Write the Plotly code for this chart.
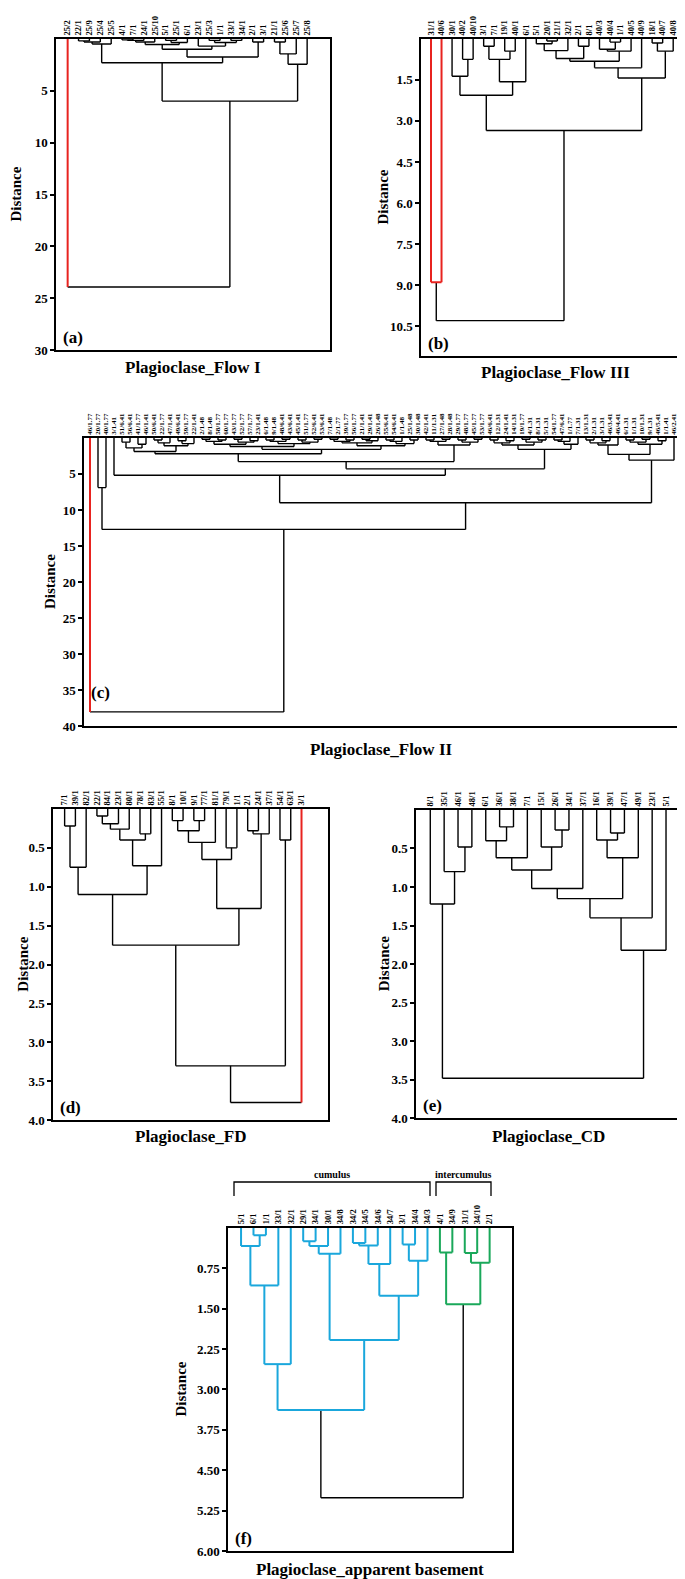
import plotly.graph_objects as go

W, H = 685, 1579
SERIF = "Liberation Serif"

# ---------------- panel (a) Plagioclase_Flow I
a_labels = ["25/2", "22/1", "25/9", "25/4", "25/5", "4/1", "7/1", "24/1", "25/10", "5/1",
            "25/1", "6/1", "23/1", "25/3", "1/1", "33/1", "34/1", "2/1", "3/1", "21/1",
            "25/6", "25/7", "25/8"]
# trees: (left, right, distance); ints are leaf positions in the label list
a_g1 = (((1, 2, 0.2), 3, 0.3), 4, 0.5)
a_g2 = ((((5, 6, 0.1), 7, 0.15), 8, 0.3), ((9, 10, 0.15), 11, 0.35), 0.55)
a_g3 = (12, ((13, 14, 0.15), (15, 16, 0.15), 0.35), 0.7)
a_g4 = ((a_g2, a_g3, 1.0), (17, 18, 0.3), 1.75)
a_right = (((19, 20, 0.3), 21, 1.45), 22, 2.45)
a_tree = (0, ((a_g1, a_g4, 2.3), a_right, 6.0), 23.9)
a_ticks = [5, 10, 15, 20, 25, 30]

# ---------------- panel (b) Plagioclase_Flow III
b_labels = ["31/1", "40/6", "30/1", "40/2", "40/10", "3/1", "7/1", "19/1", "40/1", "6/1",
            "5/1", "20/1", "21/1", "32/1", "2/1", "8/1", "40/3", "40/4", "1/1", "40/5",
            "40/9", "18/1", "40/7", "40/8"]
b_left = ((2, (3, 4, 0.75), 1.37), (((5, 6, 0.27), (7, 8, 0.45), 0.75), 9, 1.57), 2.06)
b_r1 = (((10, (11, 12, 0.08), 0.18), 13, 0.43), (14, 15, 0.27), 0.72)
b_r2 = ((16, (17, 18, 0.12), 0.38), 19, 0.45)
b_right = (((b_r1, b_r2, 0.82), 20, 1.06), ((21, 22, 0.15), 23, 0.45), 1.43)
b_tree = ((0, 1, 8.9), (b_left, b_right, 3.35), 10.3)
b_ticks = [1.5, 3.0, 4.5, 6.0, 7.5, 9.0, 10.5]

# ---------------- panel (c) Plagioclase_Flow II
c_labels = ["46/1.77", "20/1.77", "40/1.77", "3/1.41", "51/6.41", "56/6.41", "41/1.77", "46/1.41",
            "50/6.41", "22/1.77", "47/1.41", "49/6.41", "59/1.77", "22/1.41", "2/1.48", "8/1.48",
            "58/1.77", "60/1.77", "43/1.77", "52/1.77", "57/1.77", "23/1.41", "6/1.48", "9/1.48",
            "48/6.41", "43/6.41", "45/1.41", "51/1.77", "52/6.41", "53/6.41", "7/1.48", "2/1.77",
            "39/1.77", "56/1.77", "21/1.41", "29/1.41", "26/1.48", "55/6.41", "54/6.41", "1/1.48",
            "25/1.48", "30/1.48", "42/1.41", "11/1.31", "27/1.48", "28/1.48", "29/1.77", "48/1.77",
            "45/1.77", "53/1.77", "46/6.41", "12/1.31", "24/1.41", "14/1.31", "19/1.77", "4/1.31",
            "8/1.31", "5/1.31", "54/1.77", "47/6.41", "1/1.77", "7/1.31", "13/1.31", "2/1.31",
            "3/1.31", "46/3.41", "46/4.41", "6/1.31", "1/1.31", "10/1.31", "9/1.31", "46/5.41",
            "1/1.41", "46/2.41"]
c_x1 = (((4, 5, 0.6), (6, 7, 0.9), 1.4), (((8, 9, 0.3), 10, 0.7), ((11, 12, 0.4), 13, 0.8), 1.1), 1.9)
c_x2a = ((((14, 15, 0.2), (16, 17, 0.3), 0.5), ((18, 19, 0.2), (20, 21, 0.4), 0.6), 0.9),
         (((22, 23, 0.3), (24, 25, 0.2), 0.5), ((26, 27, 0.3), (28, 29, 0.2), 0.6), 0.8), 1.2)
c_x2b = ((((30, 31, 0.2), (32, 33, 0.3), 0.5), ((34, 35, 0.2), 36, 0.4), 0.7),
         (((37, 38, 0.3), 39, 0.5), (40, 41, 0.3), 0.8), 1.1)
c_x3 = (((42, 43, 0.3), (44, 45, 0.2), 0.5), ((46, 47, 0.3), (48, 49, 0.2), 0.6), 1.0)
c_x = ((c_x1, (c_x2a, c_x2b, 1.6), 2.2), c_x3, 3.3)
c_m = ((((50, 51, 0.3), (52, 53, 0.4), 0.7), ((54, 55, 0.2), (56, 57, 0.3), 0.6), 1.0),
       (((58, 59, 0.3), 60, 0.5), 61, 0.9), 1.6)
c_a = (3, (c_x, c_m, 4.3), 5.2)
c_b1 = ((((62, 63, 0.3), (64, 65, 0.4), 0.7), 66, 1.0),
        (((67, 68, 0.3), (69, 70, 0.2), 0.6), (71, 72, 0.4), 0.9), 2.3)
c_b = (c_b1, 73, 3.1)
c_tree = (0, ((1, 2, 6.9), (c_a, c_b, 9.0), 12.7), 38.0)
c_ticks = [5, 10, 15, 20, 25, 30, 35, 40]

# ---------------- panel (d) Plagioclase_FD
d_labels = ["7/1", "39/1", "82/1", "22/1", "84/1", "23/1", "80/1", "78/1", "83/1", "55/1",
            "8/1", "10/1", "9/1", "77/1", "81/1", "79/1", "1/1", "2/1", "24/1", "37/1",
            "54/1", "63/1", "3/1"]
d_a = ((0, 1, 0.22), 2, 0.75)
d_b = ((((3, 4, 0.09), 5, 0.19), 6, 0.26), (7, 8, 0.32), 0.4)
d_left = (d_a, (d_b, 9, 0.73), 1.1)
d_c1 = ((((10, 11, 0.15), (12, 13, 0.15), 0.28), 14, 0.43), (15, 16, 0.5), 0.65)
d_c = (d_c1, ((17, 18, 0.28), 19, 0.32), 1.28)
d_tree = (((d_left, d_c, 1.75), (20, 21, 0.4), 3.3), 22, 3.77)
d_ticks = [0.5, 1.0, 1.5, 2.0, 2.5, 3.0, 3.5, 4.0]

# ---------------- panel (e) Plagioclase_CD
e_labels = ["8/1", "35/1", "46/1", "48/1", "6/1", "36/1", "38/1", "7/1", "15/1", "26/1",
            "34/1", "37/1", "16/1", "39/1", "47/1", "49/1", "23/1", "5/1"]
e_m = (0, (1, (2, 3, 0.48), 0.8), 1.22)
e_n7 = ((((4, (5, 6, 0.22), 0.40), 7, 0.62), (8, (9, 10, 0.26), 0.48), 0.78), 11, 1.02)
e_n10 = ((12, (13, 14, 0.30), 0.39), 15, 0.62)
e_n = (((e_n7, e_n10, 1.15), 16, 1.4), 17, 1.82)
e_tree = (e_m, e_n, 3.48)
e_ticks = [0.5, 1.0, 1.5, 2.0, 2.5, 3.0, 3.5, 4.0]

# ---------------- panel (f) Plagioclase_apparent basement
f_labels = ["5/1", "6/1", "1/1", "33/1", "32/1", "29/1", "34/1", "30/1", "34/8", "34/2",
            "34/5", "34/6", "34/7", "3/1", "34/4", "34/3", "4/1", "34/9", "31/1", "34/10", "2/1"]
f_cumulus = f_labels[:16]
f_intercumulus = f_labels[16:]
f_left = (((0, (1, 2, 0.14), 0.34), 3, 1.07), 4, 2.53)
f_mid = ((((5, 6, 0.25), 7, 0.34), 8, 0.48),
         ((((9, 10, 0.28), 11, 0.33), 12, 0.67), ((13, 14, 0.31), 15, 0.61), 1.26), 2.08)
f_inter = ((16, 17, 0.46), ((18, 19, 0.47), 20, 0.65), 1.42)
f_tree = ((f_left, f_mid, 3.38), f_inter, 5.01)
f_ticks = [0.75, 1.50, 2.25, 3.00, 3.75, 4.50, 5.25, 6.00]


def segments(tree, labels, groups):
    # list of (xs, ys, colour) for every link of the dendrogram
    out = []

    def colour(members):
        for names, col in groups:
            if all(labels[m] in names for m in members):
                return col
        return "black"

    def walk(node):
        if isinstance(node, int):
            return node, 0.0, {node}
        l, r, h = node
        lx, lh, lm = walk(l)
        rx, rh, rm = walk(r)
        col = colour(lm | rm)
        for x0, h0, m0 in ((lx, lh, lm), (rx, rh, rm)):
            stub = colour(m0) if len(m0) == 1 else col
            out.append(([x0, x0], [h0, h], stub))
        out.append(([lx, rx], [h, h], col))
        return (lx + rx) / 2, h, lm | rm

    walk(tree)
    return out


RED = "#e8231f"
panels = [
    dict(labels=a_labels, tree=a_tree, ticks=a_ticks, fmt="{:g}", box=(48, 31, 322, 344),
         xr=(-1.07, 24.1), ymax=30, groups=[({"25/2"}, RED)], leaf=8.5, dist=40, tag_up=13,
         title="Plagioclase_Flow I", title_y=361, tag="(a)"),
    dict(labels=b_labels, tree=b_tree, ticks=b_ticks, fmt="{:.1f}", box=(413, 31, 681, 350),
         xr=(-0.95, 24.5), ymax=11.6, groups=[({"31/1", "40/6"}, RED)], leaf=8.5, dist=38, tag_up=13,
         title="Plagioclase_Flow III", title_y=366, tag="(b)"),
    dict(labels=c_labels, tree=c_tree, ticks=c_ticks, fmt="{:g}", box=(76, 432, 672, 722),
         xr=(-0.75, 73.75), ymax=40, groups=[({"46/1.77"}, RED)], leaf=7, dist=34, tag_up=34,
         title="Plagioclase_Flow II", title_y=745, tag="(c)"),
    dict(labels=d_labels, tree=d_tree, ticks=d_ticks, fmt="{:.1f}", box=(45, 805, 320, 1118),
         xr=(-1.08, 24.46), ymax=4.0, groups=[({"3/1"}, RED)], leaf=8.5, dist=30, tag_up=13,
         title="Plagioclase_FD", title_y=1134, tag="(d)"),
    dict(labels=e_labels, tree=e_tree, ticks=e_ticks, fmt="{:.1f}", box=(408, 806, 673, 1116),
         xr=(-1.03, 18.08), ymax=4.0, groups=[], leaf=8.5, dist=32, tag_up=13,
         title="Plagioclase_CD", title_y=1134, tag="(e)"),
    dict(labels=f_labels, tree=f_tree, ticks=f_ticks, fmt="{:.2f}", box=(220, 1226, 504, 1551),
         xr=(-1.05, 21.8), ymax=6.0,
         groups=[(set(f_cumulus), "#1aa7dc"), (set(f_intercumulus), "#1aa85a")], leaf=8.5, dist=47,
         tag_up=13, title="Plagioclase_apparent basement", title_y=1569, tag="(f)"),
]

fig = go.Figure()
annotations = []
layout = {}
for i, p in enumerate(panels, start=1):
    x0, y0, x1, y1 = p["box"]
    xa, ya = ("x", "y") if i == 1 else (f"x{i}", f"y{i}")
    segs = segments(p["tree"], p["labels"], p["groups"])
    for col in ["black"] + [g[1] for g in p["groups"]]:
        xs, ys = [], []
        for sx, sy, c in segs:
            if c == col:
                xs += sx + [None]
                ys += sy + [None]
        if xs:
            fig.add_trace(go.Scatter(x=xs, y=ys, mode="lines", xaxis=xa, yaxis=ya,
                                     line=dict(color=col, width=2 if col != "black" else 1.4),
                                     hoverinfo="skip", showlegend=False))
    sfx = "" if i == 1 else str(i)
    layout["xaxis" + sfx] = dict(
        domain=[x0 / W, x1 / W], anchor=ya, range=list(p["xr"]), side="top",
        tickvals=list(range(len(p["labels"]))), ticktext=p["labels"], tickangle=-90,
        tickfont=dict(family=SERIF, size=p["leaf"], color="black", weight="bold"),
        ticks="", showline=True, mirror=True, linecolor="black", linewidth=1.5,
        showgrid=False, zeroline=False, fixedrange=True)
    layout["yaxis" + sfx] = dict(
        domain=[1 - y1 / H, 1 - y0 / H], anchor=xa, range=[p["ymax"], 0],
        tickvals=p["ticks"], ticktext=[p["fmt"].format(t) for t in p["ticks"]],
        tickfont=dict(family=SERIF, size=13, color="black", weight="bold"),
        ticks="outside", ticklen=4, tickwidth=1.5, tickcolor="black",
        showline=True, mirror=True, linecolor="black", linewidth=1.5,
        showgrid=False, zeroline=False, fixedrange=True)
    annotations.append(dict(text="<b>Distance</b>", textangle=-90, x=(x0 - p["dist"]) / W,
                            y=1 - (y0 + y1) / 2 / H, xref="paper", yref="paper", showarrow=False,
                            xanchor="center", yanchor="middle",
                            font=dict(family=SERIF, size=15, color="black")))
    annotations.append(dict(text=f"<b>{p['title']}</b>", x=(x0 + x1) / 2 / W, y=1 - p["title_y"] / H,
                            xref="paper", yref="paper", showarrow=False,
                            xanchor="center", yanchor="middle",
                            font=dict(family=SERIF, size=17, color="black")))
    annotations.append(dict(text=f"<b>{p['tag']}</b>", x=(x0 + 5) / W, y=1 - (y1 - p["tag_up"]) / H,
                            xref="paper", yref="paper", showarrow=False,
                            xanchor="left", yanchor="middle",
                            font=dict(family=SERIF, size=17, color="black")))

# cumulus / intercumulus brackets over panel (f)
brackets = [("cumulus", 226, 422), ("intercumulus", 428, 483)]
shapes = []
for name, bx0, bx1 in brackets:
    shapes.append(dict(type="path", xref="paper", yref="paper", line=dict(color="black", width=1.3),
                       path=f"M {bx0 / W} {1 - 1194 / H} L {bx0 / W} {1 - 1180 / H} "
                            f"L {bx1 / W} {1 - 1180 / H} L {bx1 / W} {1 - 1194 / H}"))
    annotations.append(dict(text=f"<b>{name}</b>", x=(bx0 + bx1) / 2 / W, y=1 - 1172 / H,
                            xref="paper", yref="paper", showarrow=False,
                            xanchor="center", yanchor="middle",
                            font=dict(family=SERIF, size=10, color="black")))

fig.update_layout(width=W, height=H, margin=dict(l=0, r=0, t=0, b=0),
                  paper_bgcolor="white", plot_bgcolor="white",
                  annotations=annotations, shapes=shapes, **layout)
fig.write_html("out.html")
